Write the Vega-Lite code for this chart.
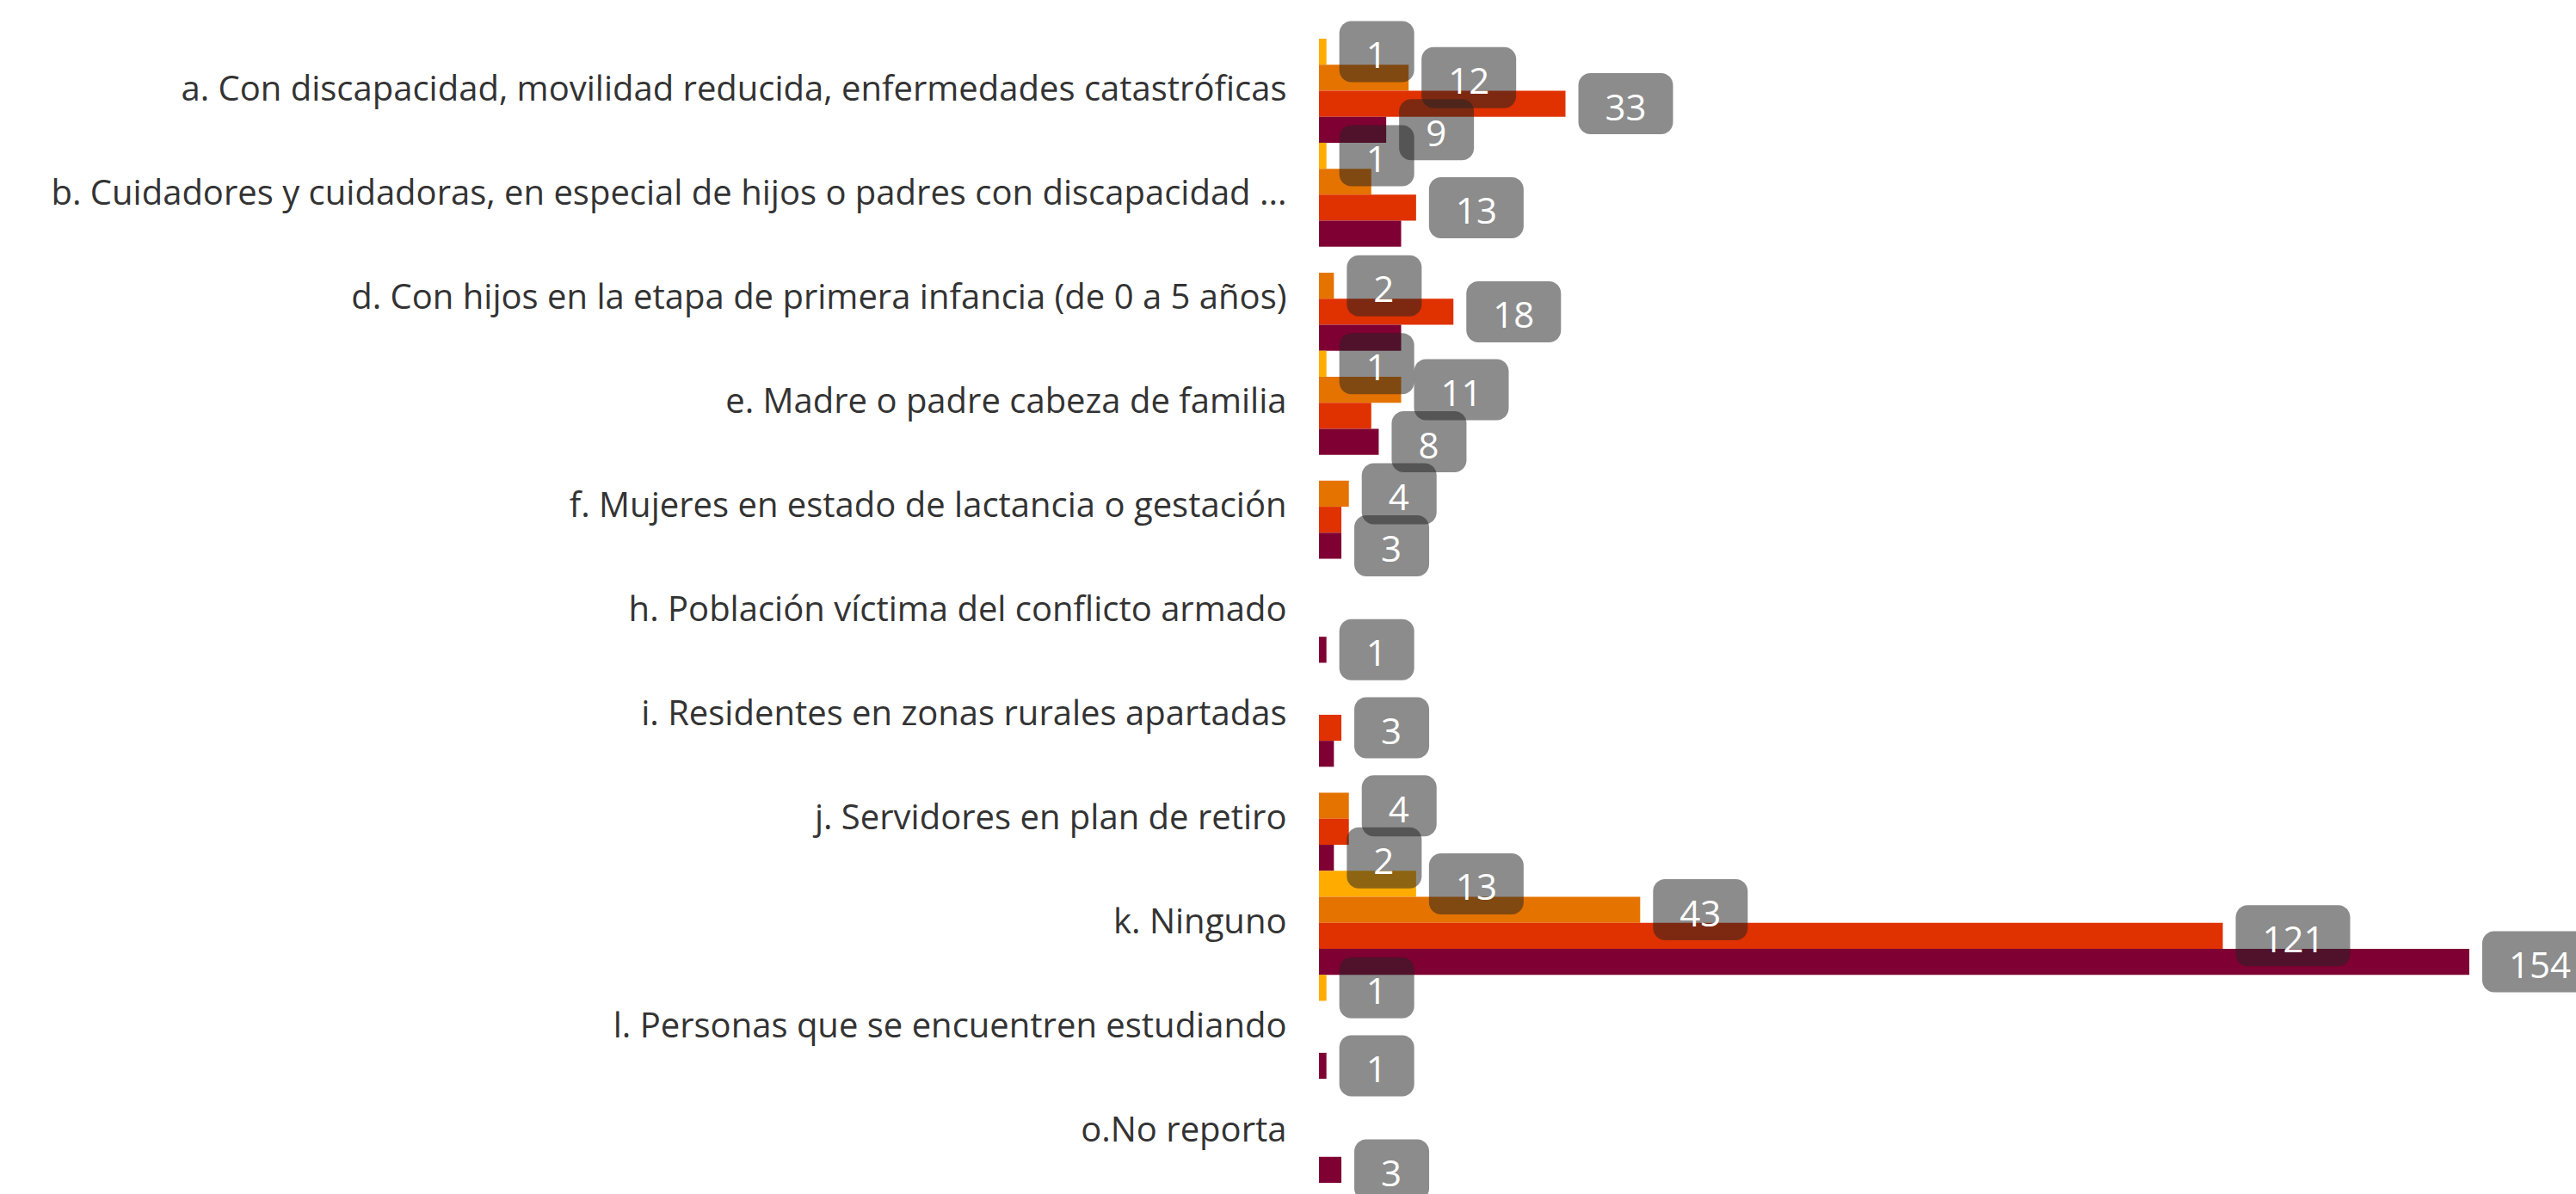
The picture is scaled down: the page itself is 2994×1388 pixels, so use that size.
{
  "$schema": "https://vega.github.io/schema/vega-lite/v6.json",
  "autosize": {"type": "none"},
  "width": 1337,
  "height": 1330,
  "padding": {"left": 1533, "top": 45, "right": 124, "bottom": 13},
  "background": "white",
  "config": {"view": {"stroke": null}, "font": "Open Sans"},
  "data": {"values": [
    {"categoria": "a. Con discapacidad, movilidad reducida, enfermedades catastróficas", "serie": "Serie 1", "valor": 1},
    {"categoria": "a. Con discapacidad, movilidad reducida, enfermedades catastróficas", "serie": "Serie 2", "valor": 12},
    {"categoria": "a. Con discapacidad, movilidad reducida, enfermedades catastróficas", "serie": "Serie 3", "valor": 33},
    {"categoria": "a. Con discapacidad, movilidad reducida, enfermedades catastróficas", "serie": "Serie 4", "valor": 9},
    {"categoria": "b. Cuidadores y cuidadoras, en especial de hijos o padres con discapacidad ...", "serie": "Serie 1", "valor": 1},
    {"categoria": "b. Cuidadores y cuidadoras, en especial de hijos o padres con discapacidad ...", "serie": "Serie 2", "valor": 7},
    {"categoria": "b. Cuidadores y cuidadoras, en especial de hijos o padres con discapacidad ...", "serie": "Serie 3", "valor": 13},
    {"categoria": "b. Cuidadores y cuidadoras, en especial de hijos o padres con discapacidad ...", "serie": "Serie 4", "valor": 11},
    {"categoria": "d. Con hijos en la etapa de primera infancia (de 0 a 5 años)", "serie": "Serie 2", "valor": 2},
    {"categoria": "d. Con hijos en la etapa de primera infancia (de 0 a 5 años)", "serie": "Serie 3", "valor": 18},
    {"categoria": "d. Con hijos en la etapa de primera infancia (de 0 a 5 años)", "serie": "Serie 4", "valor": 11},
    {"categoria": "e. Madre o padre cabeza de familia", "serie": "Serie 1", "valor": 1},
    {"categoria": "e. Madre o padre cabeza de familia", "serie": "Serie 2", "valor": 11},
    {"categoria": "e. Madre o padre cabeza de familia", "serie": "Serie 3", "valor": 7},
    {"categoria": "e. Madre o padre cabeza de familia", "serie": "Serie 4", "valor": 8},
    {"categoria": "f. Mujeres en estado de lactancia o gestación", "serie": "Serie 2", "valor": 4},
    {"categoria": "f. Mujeres en estado de lactancia o gestación", "serie": "Serie 3", "valor": 3},
    {"categoria": "f. Mujeres en estado de lactancia o gestación", "serie": "Serie 4", "valor": 3},
    {"categoria": "h. Población víctima del conflicto armado", "serie": "Serie 4", "valor": 1},
    {"categoria": "i. Residentes en zonas rurales apartadas", "serie": "Serie 3", "valor": 3},
    {"categoria": "i. Residentes en zonas rurales apartadas", "serie": "Serie 4", "valor": 2},
    {"categoria": "j. Servidores en plan de retiro", "serie": "Serie 2", "valor": 4},
    {"categoria": "j. Servidores en plan de retiro", "serie": "Serie 3", "valor": 4},
    {"categoria": "j. Servidores en plan de retiro", "serie": "Serie 4", "valor": 2},
    {"categoria": "k. Ninguno", "serie": "Serie 1", "valor": 13},
    {"categoria": "k. Ninguno", "serie": "Serie 2", "valor": 43},
    {"categoria": "k. Ninguno", "serie": "Serie 3", "valor": 121},
    {"categoria": "k. Ninguno", "serie": "Serie 4", "valor": 154},
    {"categoria": "l. Personas que se encuentren estudiando", "serie": "Serie 1", "valor": 1},
    {"categoria": "l. Personas que se encuentren estudiando", "serie": "Serie 4", "valor": 1},
    {"categoria": "o.No reporta", "serie": "Serie 4", "valor": 3}
  ]},
  "encoding": {
    "y": {
      "field": "categoria", "type": "nominal", "sort": null,
      "scale": {"paddingInner": 0, "paddingOuter": 0},
      "axis": {
        "title": null, "domain": false, "ticks": false, "grid": false,
        "labelFontSize": 40, "labelColor": "#333333", "labelFont": "Open Sans",
        "labelPadding": 38, "labelLimit": 1600
      }
    },
    "yOffset": {
      "field": "serie", "type": "nominal",
      "scale": {"domain": ["Serie 1", "Serie 2", "Serie 3", "Serie 4"], "paddingInner": 0, "paddingOuter": 0}
    },
    "x": {
      "field": "valor", "type": "quantitative",
      "scale": {"domain": [0, 154], "nice": false, "zero": true},
      "axis": null
    }
  },
  "layer": [
    {
      "mark": {"type": "bar", "opacity": 1},
      "encoding": {
        "color": {
          "field": "serie", "type": "nominal",
          "scale": {"domain": ["Serie 1", "Serie 2", "Serie 3", "Serie 4"], "range": ["#FFAB00", "#E57300", "#E03100", "#7F0033"]},
          "legend": null
        }
      }
    },
    {
      "transform": [
        {"filter": "indexof(['b.|Serie 2','b.|Serie 4','d.|Serie 4','e.|Serie 3','f.|Serie 3','i.|Serie 4','j.|Serie 3'], substring(datum.categoria,0,2) + '|' + datum.serie) < 0"}
      ],
      "mark": {"type": "point", "filled": true, "size": 4, "fill": "#222222", "opacity": 0.52, "strokeWidth": 0},
      "encoding": {
        "shape": {
          "condition": [
            {"test": "datum.valor >= 100", "value": "M29,-35.5H134C141.73,-35.5 148,-29.23 148,-21.5V21.5C148,29.23 141.73,35.5 134,35.5H29C21.27,35.5 15,29.23 15,21.5V-21.5C15,-29.23 21.27,-35.5 29,-35.5Z"},
            {"test": "datum.valor >= 10", "value": "M29,-35.5H111C118.73,-35.5 125,-29.23 125,-21.5V21.5C125,29.23 118.73,35.5 111,35.5H29C21.27,35.5 15,29.23 15,21.5V-21.5C15,-29.23 21.27,-35.5 29,-35.5Z"}
          ],
          "value": "M29,-35.5H88C95.73,-35.5 102,-29.23 102,-21.5V21.5C102,29.23 95.73,35.5 88,35.5H29C21.27,35.5 15,29.23 15,21.5V-21.5C15,-29.23 21.27,-35.5 29,-35.5Z"
        }
      }
    },
    {
      "transform": [
        {"filter": "indexof(['b.|Serie 2','b.|Serie 4','d.|Serie 4','e.|Serie 3','f.|Serie 3','i.|Serie 4','j.|Serie 3'], substring(datum.categoria,0,2) + '|' + datum.serie) < 0"}
      ],
      "mark": {"type": "text", "align": "left", "baseline": "alphabetic", "dx": 46, "dy": 19, "fontSize": 42, "color": "#FFFFFF", "font": "Open Sans"},
      "encoding": {
        "text": {"field": "valor", "type": "quantitative"}
      }
    }
  ]
}
